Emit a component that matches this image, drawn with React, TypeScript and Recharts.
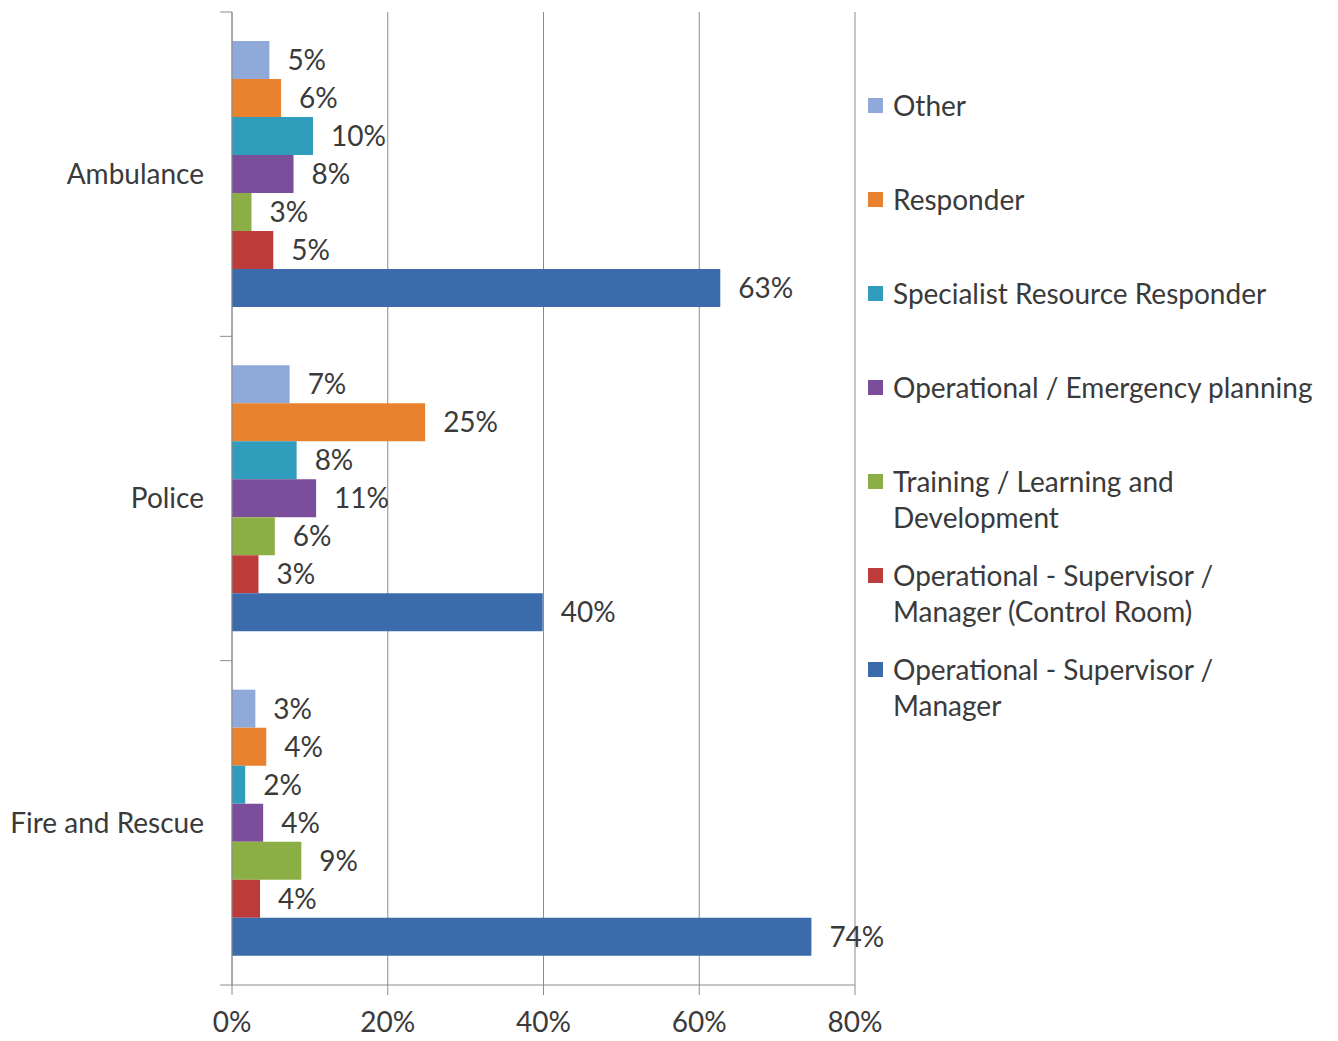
import React from 'react';
import { BarChart, Bar, XAxis, YAxis, CartesianGrid, LabelList } from 'recharts';

// categories (top to bottom)
const categories = ['Ambulance', 'Police', 'Fire and Rescue'];

// series values in %, one per category
const other = [4.8, 7.4, 3.0];
const responder = [6.3, 24.8, 4.4];
const specialist = [10.4, 8.3, 1.7];
const opEmergency = [7.9, 10.8, 4.0];
const training = [2.5, 5.5, 8.9];
const controlRoom = [5.3, 3.4, 3.6];
const opSupervisor = [62.7, 39.9, 74.4];

const xTicks = [0, 20, 40, 60, 80];

const series = [
  { key: 'other', name: 'Other', values: other, color: '#8FA9D8' },
  { key: 'responder', name: 'Responder', values: responder, color: '#E8822E' },
  { key: 'specialist', name: 'Specialist Resource Responder', values: specialist, color: '#2F9DBB' },
  { key: 'opEmergency', name: 'Operational / Emergency planning', values: opEmergency, color: '#7A4E9B' },
  { key: 'training', name: 'Training / Learning and\nDevelopment', values: training, color: '#8BAF45' },
  { key: 'controlRoom', name: 'Operational - Supervisor /\nManager (Control Room)', values: controlRoom, color: '#BD3B3B' },
  { key: 'opSupervisor', name: 'Operational - Supervisor /\nManager', values: opSupervisor, color: '#3B6BAB' },
];

const data = categories.map((cat, i) => {
  const row: Record<string, string | number> = { category: cat };
  series.forEach(s => {
    row[s.key] = s.values[i];
  });
  return row;
});

const FONT = 'Lato, sans-serif';
const TEXT = '#3a3a3a';
const GRID = '#8c8c8c';
const FS = 28;
const Y_MARGIN = 28;
const EDGE_TICK = 12;

// category label plus Excel-style tick marks on the band edges
const CategoryTick = (props: any) => {
  const { x, y, payload, index } = props;
  const half = payload && typeof payload.offset === 'number' ? payload.offset : 0;
  const axisX = x + Y_MARGIN;
  return (
    <g>
      <text x={x} y={y} dy="0.355em" textAnchor="end" fill={TEXT} fontSize={FS} fontFamily={FONT}>
        {payload.value}
      </text>
      {half > 0 && index === 0 && (
        <line x1={axisX - EDGE_TICK} x2={axisX} y1={y - half} y2={y - half} stroke={GRID} />
      )}
      {half > 0 && (
        <line x1={axisX - EDGE_TICK} x2={axisX} y1={y + half} y2={y + half} stroke={GRID} />
      )}
    </g>
  );
};

const App: React.FC = () => {
  return (
    <div style={{ position: 'absolute', left: 0, top: 0, width: 1338, height: 1041, fontFamily: FONT, background: '#fff' }}>
      <BarChart
        width={1338}
        height={1041}
        layout="vertical"
        data={data}
        margin={{ top: 12, right: 483, left: 0, bottom: 0 }}
        barCategoryGap={29}
        barGap={0}
      >
        <CartesianGrid horizontal={false} stroke={GRID} strokeWidth={1} />
        <YAxis
          type="category"
          dataKey="category"
          width={232}
          tickSize={0}
          tickMargin={Y_MARGIN}
          tickLine={false}
          axisLine={{ stroke: GRID }}
          tick={CategoryTick}
        />
        <XAxis
          type="number"
          domain={[0, 80]}
          ticks={xTicks}
          height={56}
          tickSize={10}
          tickMargin={17}
          tickFormatter={(v: number) => `${v}%`}
          axisLine={{ stroke: GRID }}
          tickLine={{ stroke: GRID }}
          tick={{ fill: TEXT, fontSize: FS, fontFamily: FONT }}
        />
        {series.map(s => (
          <Bar key={s.key} dataKey={s.key} fill={s.color} isAnimationActive={false}>
            <LabelList
              dataKey={s.key}
              position="right"
              offset={18}
              formatter={(v: number) => `${Math.round(v)}%`}
              style={{ fill: TEXT, fontSize: FS, fontFamily: FONT }}
            />
          </Bar>
        ))}
      </BarChart>

      {/* legend */}
      {series.map((s, i) => (
        <div
          key={s.key}
          style={{
            position: 'absolute',
            left: 868,
            top: 87 + 94 * i,
            fontSize: FS,
            lineHeight: '36px',
            color: TEXT,
          }}
        >
          <div style={{ position: 'absolute', left: 0, top: 11, width: 15, height: 15, background: s.color }} />
          <div style={{ marginLeft: 25, whiteSpace: 'pre' }}>{s.name}</div>
        </div>
      ))}
    </div>
  );
};

export default App;
